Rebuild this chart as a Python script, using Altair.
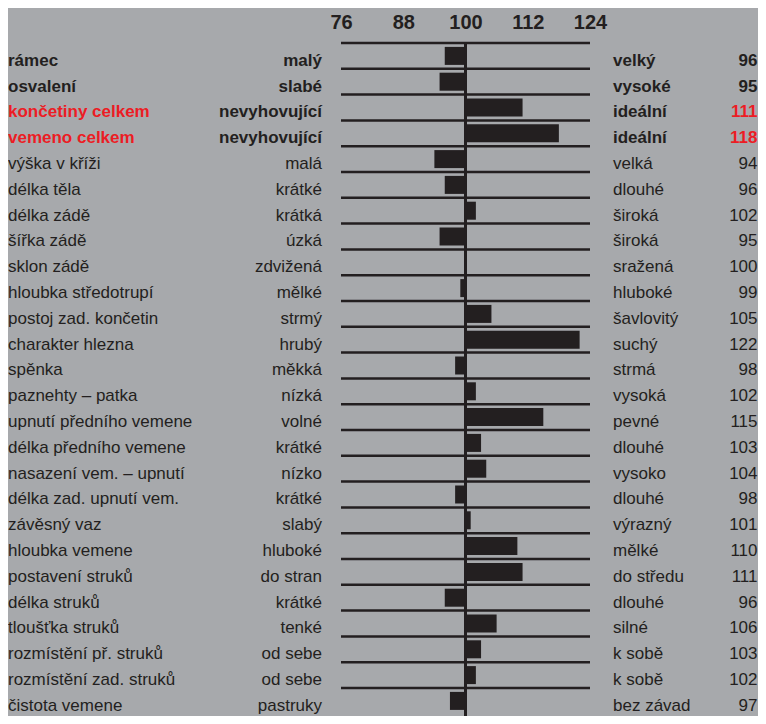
import altair as alt
import pandas as pd

traits = ["rámec", "osvalení", "končetiny celkem", "vemeno celkem", "výška v kříži",
          "délka těla", "délka zádě", "šířka zádě", "sklon zádě", "hloubka středotrupí",
          "postoj zad. končetin", "charakter hlezna", "spěnka", "paznehty – patka",
          "upnutí předního vemene", "délka předního vemene", "nasazení vem. – upnutí",
          "délka zad. upnutí vem.", "závěsný vaz", "hloubka vemene", "postavení struků",
          "délka struků", "tloušťka struků", "rozmístění př. struků",
          "rozmístění zad. struků", "čistota vemene"]

low_labels = ["malý", "slabé", "nevyhovující", "nevyhovující", "malá", "krátké", "krátká",
              "úzká", "zdvižená", "mělké", "strmý", "hrubý", "měkká", "nízká", "volné",
              "krátké", "nízko", "krátké", "slabý", "hluboké", "do stran", "krátké",
              "tenké", "od sebe", "od sebe", "pastruky"]

high_labels = ["velký", "vysoké", "ideální", "ideální", "velká", "dlouhé", "široká",
               "široká", "sražená", "hluboké", "šavlovitý", "suchý", "strmá", "vysoká",
               "pevné", "dlouhé", "vysoko", "dlouhé", "výrazný", "mělké", "do středu",
               "dlouhé", "silné", "k sobě", "k sobě", "bez závad"]

values = [96, 95, 111, 118, 94, 96, 102, 95, 100, 99, 105, 122, 98, 102, 115, 103, 104,
          98, 101, 110, 111, 96, 106, 103, 102, 97]

axis_ticks = [76, 88, 100, 112, 124]

bold_traits = ["rámec", "osvalení", "končetiny celkem", "vemeno celkem"]
red_traits = ["končetiny celkem", "vemeno celkem"]

df = pd.DataFrame({
    "trait": traits,
    "low": low_labels,
    "high": high_labels,
    "value": values,
})
df["bold"] = df["trait"].isin(bold_traits)
df["red"] = df["trait"].isin(red_traits)
df["label"] = df["value"].astype(str)

DARK = "#231f20"
RED = "#ec1c24"
BG = "#a7a9ac"
FONT = "Liberation Sans"
FS = 17

TOP = 35
BAND = 25.8
xscale = alt.Scale(domain=[76, 124], range=[333, 582], zero=False, nice=False)
yscale = alt.Scale(domain=traits, range=[0, BAND * len(traits)], paddingInner=0,
                   paddingOuter=0)

x_axis = alt.Axis(orient="top", values=axis_ticks, ticks=False, tickSize=0, domain=False,
                  grid=False, labelFontSize=20, labelFontWeight="bold", labelFont=FONT,
                  labelColor=DARK, labelBaseline="alphabetic", labelPadding=15,
                  labelFlush=False, labelOverlap=False, title=None)

Y = alt.Y("trait:N", scale=yscale, axis=None)

hlines = alt.Chart().mark_rule(color=DARK, strokeWidth=2.5).encode(
    y=alt.Y("trait:N", scale=yscale, axis=None, bandPosition=0),
    x=alt.datum(76, scale=xscale, axis=x_axis),
    x2=alt.datum(124),
)

bars = alt.Chart().mark_bar(color=DARK, size=18).encode(
    y=Y,
    x=alt.X("value:Q"),
    x2=alt.datum(100),
)

vline = alt.Chart().mark_rule(color=DARK, strokeWidth=2.5).encode(
    x=alt.datum(100),
)

color_cond = alt.condition("datum.red", alt.value(RED), alt.value(DARK))


def text_layer(field, align, xpos, weight, colored):
    flt = "datum.bold" if weight == "bold" else "!datum.bold"
    enc = dict(y=Y, text=f"{field}:N", x=alt.value(xpos))
    if colored:
        enc["color"] = color_cond
    else:
        enc["color"] = alt.value(DARK)
    return alt.Chart().transform_filter(flt).mark_text(
        align=align, baseline="alphabetic", dy=9.8, font=FONT, fontSize=FS,
        fontWeight=weight
    ).encode(**enc)


texts = []
for w in ["bold", "normal"]:
    texts.append(text_layer("trait", "left", 0, w, True))
    texts.append(text_layer("low", "right", 314, w, False))
    texts.append(text_layer("high", "left", 605, w, False))
    texts.append(text_layer("label", "right", 749.5, w, True))

chart = alt.layer(hlines, bars, vline, *texts, data=df).properties(
    width=750,
    height=708 - TOP,
    padding={"left": 0, "top": TOP, "right": 0, "bottom": 0},
    autosize=alt.AutoSizeParams(type="none"),
    background=BG,
).configure_view(stroke=None)

chart.save("out.html", embed_options={"renderer": "svg", "actions": False})
